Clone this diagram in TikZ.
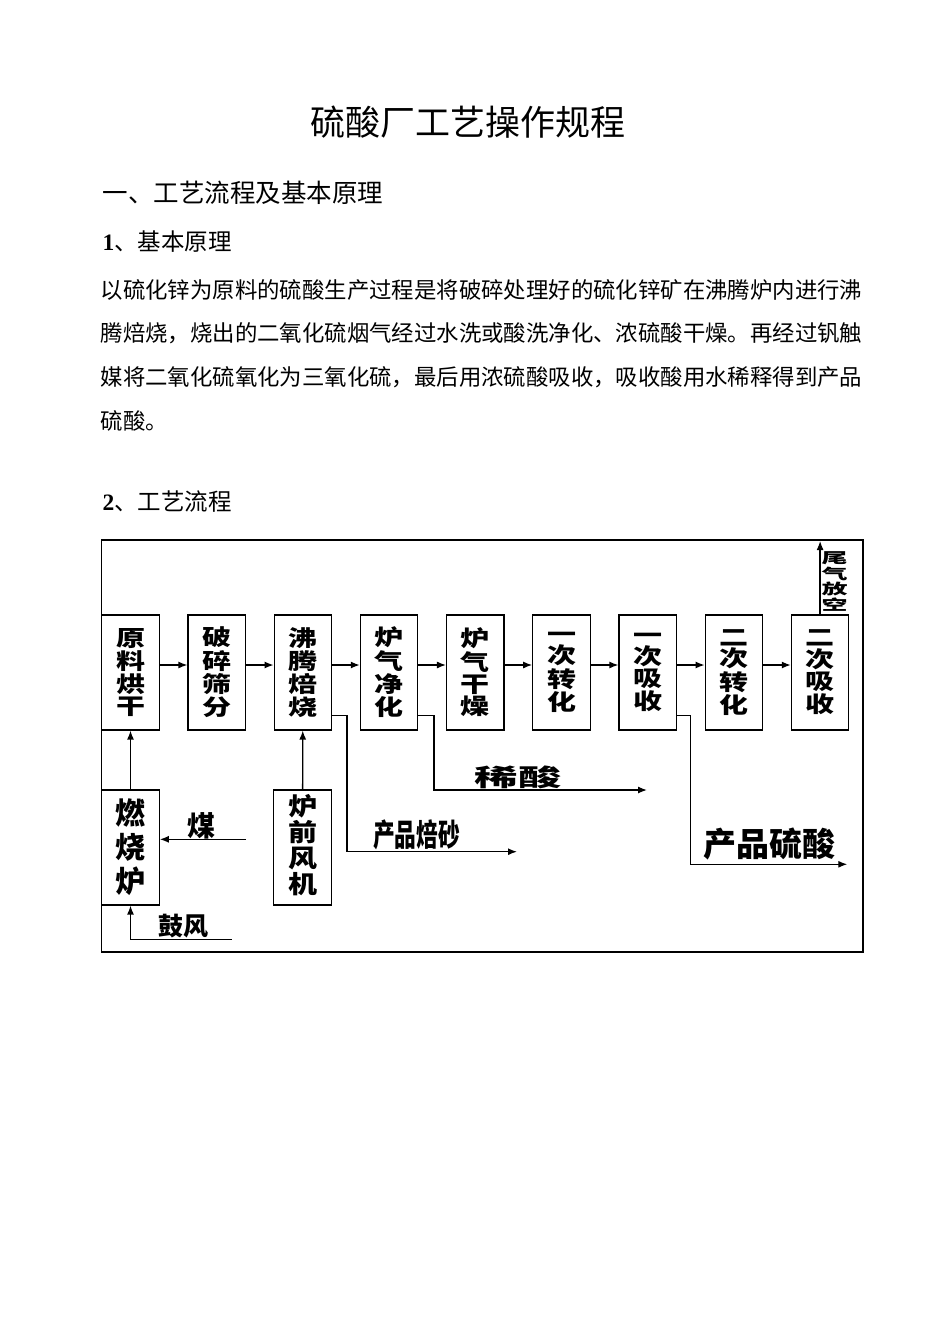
\documentclass[tikz,border=0pt]{standalone}
\usepackage{fontspec}
\usepackage{graphicx}
\setmainfont{Liberation Serif}
\newfontfamily\cjk{Noto Sans CJK SC}
\usetikzlibrary{shapes, arrows, arrows.meta, positioning}
\newcommand{\boxtext}[2][0.76]{\scalebox{1}[#1]{\shortstack{#2}}}

\begin{document}
\begin{tikzpicture}[x=1pt, y=-1pt, >={Latex[length=9pt, width=7pt]}, line width=1.3pt]
\useasboundingbox (0,0) rectangle (950,1344);

\tikzstyle{block} = [draw, shape=rectangle, minimum height=115pt, minimum width=57.5pt, inner sep=0pt, node distance=27.5pt, line width=1.2pt, font=\cjk\bfseries\fontsize{29}{29}\selectfont]
\tikzstyle{flowtext} = [inner sep=0pt, font=\cjk\bfseries\fontsize{28}{28}\selectfont]
\tikzstyle{pagetext} = [inner sep=0pt, anchor=west, font=\cjk\fontsize{22.4}{22.4}\selectfont]

%Page text
\node[font=\cjk\fontsize{35}{35}\selectfont] (title) at (467.5,122) {硫酸厂工艺操作规程};
\node[pagetext, font=\cjk\fontsize{25.5}{25.5}\selectfont] (sec1) at (102,193) {一、工艺流程及基本原理};
\node[pagetext, font=\cjk\fontsize{23.5}{23.5}\selectfont] (sub1) at (102,242) {\textbf{\rmfamily 1}、基本原理};
\node[pagetext] (line1) at (100,290) {以硫化锌为原料的硫酸生产过程是将破碎处理好的硫化锌矿在沸腾炉内进行沸};
\node[pagetext] (line2) at (100,333.5) {腾焙烧，烧出的二氧化硫烟气经过水洗或酸洗净化、浓硫酸干燥。再经过钒触};
\node[pagetext] (line3) at (100,377) {媒将二氧化硫氧化为三氧化硫，最后用浓硫酸吸收，吸收酸用水稀释得到产品};
\node[pagetext] (line4) at (100,420.5) {硫酸。};
\node[pagetext, font=\cjk\fontsize{23.5}{23.5}\selectfont] (sub2) at (102,502) {\textbf{\rmfamily 2}、工艺流程};

%Frame
\draw[line width=1.2pt] (101.7,540) rectangle (863,952);

%Creating Blocks
\node[block] at (130.5,672.5) (b1) {\boxtext{原\\料\\烘\\干}};
\node[block, right=of b1] (b2) {\boxtext{破\\碎\\筛\\分}};
\node[block, right=of b2] (b3) {\boxtext{沸\\腾\\焙\\烧}};
\node[block, right=of b3] (b4) {\boxtext{炉\\气\\净\\化}};
\node[block, right=of b4] (b5) {\boxtext{炉\\气\\干\\燥}};
\node[block, right=of b5] (b6) {\boxtext{一\\次\\转\\化}};
\node[block, right=of b6] (b7) {\boxtext{一\\次\\吸\\收}};
\node[block, right=of b7] (b8) {\boxtext{二\\次\\转\\化}};
\node[block, right=of b8] (b9) {\boxtext{二\\次\\吸\\收}};
\node[block, align=center, font=\cjk\bfseries\fontsize{30}{34}\selectfont] at (130.5,847.5) (furnace) {燃\\烧\\炉};
\node[block] at (302.5,847.5) (fan) {\raisebox{7pt}{\boxtext[0.85]{炉\\前\\风\\机}}};

%Free ends
\coordinate (coal) at (246,839.3);
\coordinate (blast) at (231.7,939.3);
\coordinate (vent) at (819.8,541);
\coordinate (sand) at (517,851.7);
\coordinate (dilute) at (647,790);
\coordinate (acid) at (847.3,864.3);

%Connecting Blocks
\draw[->] ([yshift=7.5]b1.east) -- ([yshift=7.5]b2.west);
\draw[->] ([yshift=7.5]b2.east) -- ([yshift=7.5]b3.west);
\draw[->] ([yshift=7.5]b3.east) -- ([yshift=7.5]b4.west);
\draw[->] ([yshift=7.5]b4.east) -- ([yshift=7.5]b5.west);
\draw[->] ([yshift=7.5]b5.east) -- ([yshift=7.5]b6.west);
\draw[->] ([yshift=7.5]b6.east) -- ([yshift=7.5]b7.west);
\draw[->] ([yshift=7.5]b7.east) -- ([yshift=7.5]b8.west);
\draw[->] ([yshift=7.5]b8.east) -- ([yshift=7.5]b9.west);
\draw[->] (furnace) -- (b1);
\draw[->] (fan) -- (b3);
\draw[->] (coal) -- (coal -| furnace.east);
\draw[->] (blast) -| (furnace.south);
\draw[->] (b9.north) -- (b9.north |- vent);
\draw[->] ([yshift=15]b3.south east) -- ++(14.7,0) |- (sand);
\draw[->] ([yshift=15]b4.south east) -- ++(15.4,0) |- (dilute);
\draw[->] ([yshift=15]b7.south east) -- ++(13.7,0) |- (acid);

%Labels
\node[flowtext] at (201.7,826) (coallabel) {煤};
\node[flowtext, font=\cjk\bfseries\fontsize{25}{25}\selectfont] at (183,926) (blastlabel) {鼓风};
\node[flowtext, font=\cjk\bfseries\fontsize{26}{26}\selectfont, anchor=north west] at (821,551) (ventlabel) {\boxtext[0.56]{尾\\气\\放\\空}};
\node[flowtext, font=\cjk\bfseries\fontsize{31}{31}\selectfont] at (416.5,835) (sandlabel) {\scalebox{0.7}[1]{产品焙砂}};
\node[flowtext, font=\cjk\bfseries\fontsize{24}{24}\selectfont] at (518,777) (dilutelabel) {\scalebox{1.8}[1]{稀酸}};
\node[flowtext, font=\cjk\bfseries\fontsize{33}{33}\selectfont] at (769.5,844) (acidlabel) {产品硫酸};
\end{tikzpicture}
\end{document}
